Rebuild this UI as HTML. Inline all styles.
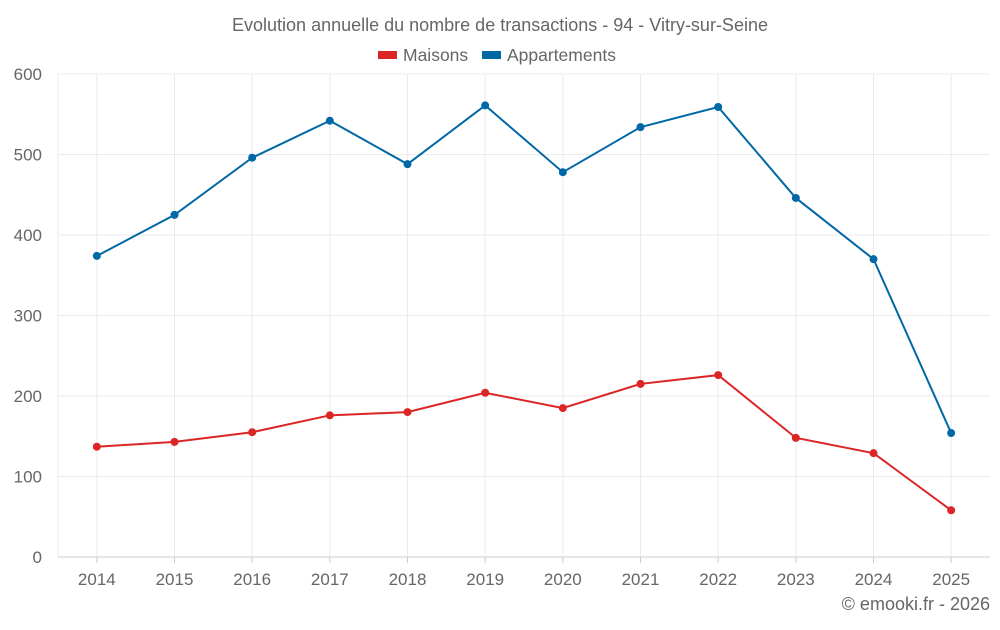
<!DOCTYPE html>
<html><head><meta charset="utf-8"><style>
body{margin:0;background:#fff;font-family:"Liberation Sans",sans-serif;}
svg text{font-family:"Liberation Sans",sans-serif;fill:#666;}
</style></head><body>
<svg id="c" width="1000" height="625">
<text x="500" y="31" text-anchor="middle" font-size="18">Evolution annuelle du nombre de transactions - 94 - Vitry-sur-Seine</text>
<g>
<g><rect x="378" y="51" width="19" height="8" fill="#dc2626"/><text x="403" y="61" font-size="17.5">Maisons</text></g>
<g><rect x="482" y="51" width="19" height="8" fill="#0068a5"/><text x="507" y="61" font-size="17.5">Appartements</text></g>
</g>
<g id="grid"></g><g id="axes"></g><g id="series"></g>
<text x="990" y="610" text-anchor="end" font-size="18">© emooki.fr - 2026</text>
</svg>
<script>
const categories=["2014","2015","2016","2017","2018","2019","2020","2021","2022","2023","2024","2025"];
const maisons=[137,143,155,176,180,204,185,215,226,148,129,58];
const appartements=[374,425,496,542,488,561,478,534,559,446,370,154];
const yTicks=[0,100,200,300,400,500,600];
const L=58,R=990,T=74,B=557,ymax=600;
const NS="http://www.w3.org/2000/svg";
const bw=(R-L)/categories.length;
const x=i=>L+bw*(i+0.5);
const y=v=>B-(v/ymax)*(B-T);
function mk(p,tag,a){const e=document.createElementNS(NS,tag);for(const k in a)e.setAttribute(k,a[k]);p.appendChild(e);return e;}
const grid=document.getElementById('grid'),axes=document.getElementById('axes'),ser=document.getElementById('series');
yTicks.forEach(t=>{
 const g=mk(grid,'line',{x1:L,x2:R,y1:y(t),y2:y(t),stroke:t===0?'#ccc':'#ebebeb'});
 
 
 const tx=mk(axes,'text',{x:42,y:y(t)+6,'text-anchor':'end','font-size':17});
 tx.textContent=t;
 
 
});
categories.forEach((c,i)=>{
 const g=mk(grid,'line',{x1:x(i),x2:x(i),y1:T,y2:B,stroke:'#ebebeb'});
 
 
 const tk=mk(axes,'line',{x1:x(i),x2:x(i),y1:B,y2:B+6,stroke:'#ccc'});
 
 
 const tx=mk(axes,'text',{x:x(i),y:585,'text-anchor':'middle','font-size':17});
 tx.textContent=c;
 
 
});
const la=mk(axes,'line',{x1:L,x2:L,y1:T,y2:B,stroke:'#ebebeb'});


function series(vals,color,name){
 const p=mk(ser,'polyline',{points:vals.map((v,i)=>x(i)+','+y(v)).join(' '),fill:'none',stroke:color,'stroke-width':2});
 
 
 vals.forEach((v,i)=>{
  const c=mk(ser,'circle',{cx:x(i),cy:y(v),r:4,fill:color});
  
  
 });
}
series(appartements,'#0068a5','appartements');
series(maisons,'#dc2626','maisons');
</script>
</body></html>
